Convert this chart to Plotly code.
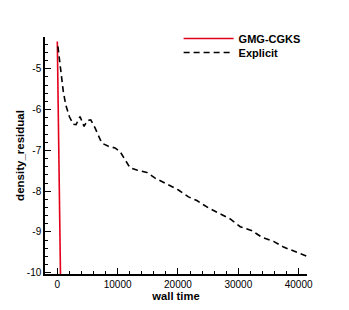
import plotly.graph_objects as go

# GMG-CGKS series
gmg_time = [0, 550]
gmg_res = [-4.33, -10.3]

# Explicit series
exp_time = [100, 166, 564, 996, 1394, 1992, 2656, 3104, 3768, 4432, 4979, 5544, 6257,
            7087, 7370, 8465, 9577, 10407, 11237, 12066, 13178, 14838, 16216, 18158,
            20083, 21743, 23137, 25062, 26888, 28664, 30324, 32266, 33925, 35851,
            37510, 39450, 41110, 41500]
exp_res = [-4.45, -4.53, -4.98, -5.56, -5.88, -6.17, -6.36, -6.37, -6.17, -6.41, -6.27,
           -6.25, -6.45, -6.74, -6.82, -6.90, -6.94, -7.03, -7.23, -7.43, -7.48, -7.54,
           -7.68, -7.82, -7.97, -8.14, -8.23, -8.41, -8.55, -8.68, -8.87, -8.97, -9.13,
           -9.23, -9.37, -9.48, -9.58, -9.60]

y_tickvals = [-10, -9, -8, -7, -6, -5]
y_ticktext = ["-10", "-9", "-8", "-7", "-6", "-5"]
x_tickvals = [0, 10000, 20000, 30000, 40000]
x_ticktext = ["0", "10000", "20000", "30000", "40000"]

fig = go.Figure()
fig.add_trace(go.Scatter(x=gmg_time, y=gmg_res, mode="lines", name="GMG-CGKS",
                         line=dict(color="#e3001b", width=1.6), legend="legend"))
fig.add_trace(go.Scatter(x=exp_time, y=exp_res, mode="lines", name="Explicit",
                         line=dict(color="black", width=1.6, dash="6px,4px"), legend="legend2"))

font = "Liberation Sans, Arial, sans-serif"
leg_common = dict(xanchor="left", yanchor="top", bgcolor="rgba(0,0,0,0)",
                  font=dict(size=11, family=font, weight="bold"), itemwidth=50)
fig.update_layout(
    width=341, height=302,
    margin=dict(l=37, r=42, t=29, b=36),
    plot_bgcolor="white", paper_bgcolor="white",
    font=dict(family=font, size=10, color="black"),
    showlegend=True,
    legend=dict(x=0.51, y=1.055, **leg_common),
    legend2=dict(x=0.51, y=0.996, **leg_common),
    xaxis=dict(range=[-2040, 41390], showgrid=False, zeroline=False, automargin=False,
               showline=True, linecolor="black", linewidth=1.5,
               ticks="inside", ticklen=6, tickwidth=1.3, tickcolor="black",
               tickvals=x_tickvals, ticktext=x_ticktext,
               minor=dict(dtick=2000, tick0=0, ticks="inside", ticklen=3, tickwidth=1, tickcolor="black"),
               title=dict(text="wall time", font=dict(size=11.2, weight="bold"), standoff=0),
               tickfont=dict(size=10)),
    yaxis=dict(range=[-10.03, -4.22], showgrid=False, zeroline=False, automargin=False,
               showline=True, linecolor="black", linewidth=1.5,
               ticks="inside", ticklen=6, tickwidth=1.3, tickcolor="black",
               tickvals=y_tickvals, ticktext=y_ticktext,
               minor=dict(dtick=0.2, tick0=0, ticks="inside", ticklen=3, tickwidth=1, tickcolor="black"),
               title=dict(text="density_residual", font=dict(size=11.5, weight="bold"), standoff=0),
               tickfont=dict(size=10)),
)
fig.write_html("out.html")
